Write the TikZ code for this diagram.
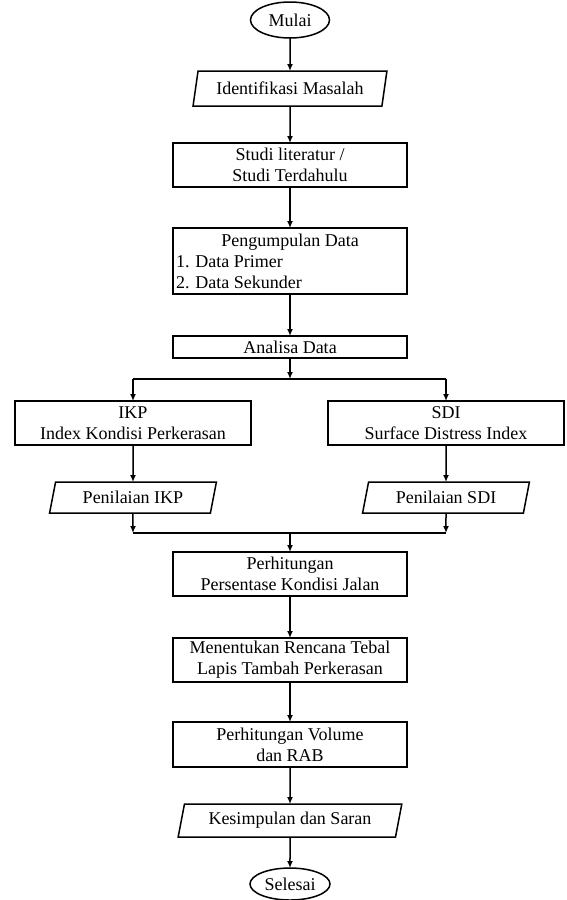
\documentclass[tikz,border=0pt]{standalone}
\usepackage{fontspec}
\setmainfont{Liberation Serif}
\usetikzlibrary{arrows.meta, positioning, shapes.geometric}
\tikzset{
  every node/.style={font=\fontsize{18}{21}\selectfont},
  procbox/.style={draw=black, line width=1.5pt, minimum width=234pt,
    align=center, outer sep=0pt, inner xsep=2pt, inner ysep=2pt},
  iobox/.style={trapezium, trapezium left angle=76, trapezium right angle=104,
    trapezium stretches=true, draw=black, line width=1.5pt, outer sep=0pt,
    inner ysep=2pt, minimum height=33pt},
  termbox/.style={ellipse, draw=black, line width=1.5pt, outer sep=0pt,
    inner sep=1pt},
  flow/.style={-{Latex[length=7pt, width=6pt]}, line width=1.5pt},
  link/.style={line width=1.5pt},
}
\begin{document}
\begin{tikzpicture}[x=1pt, y=-1pt]
  \useasboundingbox (0,0) rectangle (566,900);

  % main column
  \node[termbox, minimum width=79pt, minimum height=36pt] (mulai) at (290,20) {Mulai};
  \node[iobox, minimum width=194pt, minimum height=35pt, below=33pt of mulai] (identifikasi)
    {Identifikasi Masalah};
  \node[procbox, minimum height=44pt, below=37pt of identifikasi] (studi)
    {Studi literatur /\\ Studi Terdahulu};
  \node[procbox, minimum height=66pt, align=left, below=41pt of studi] (kumpul)
    {\makebox[228pt]{Pengumpulan Data}\\ 1. Data Primer\\ 2. Data Sekunder};
  \node[procbox, minimum height=22pt, below=42pt of kumpul] (analisa) {Analisa Data};

  % two branches
  \node[procbox, minimum width=236pt, minimum height=44pt, below=43pt of analisa, xshift=-157pt] (ikp)
    {IKP\\ Index Kondisi Perkerasan};
  \node[procbox, minimum width=236pt, minimum height=44pt, below=43pt of analisa, xshift=156pt] (sdi)
    {SDI\\ Surface Distress Index};
  \node[iobox, minimum width=167pt, minimum height=31pt, below=37pt of ikp] (nilaiikp) {Penilaian IKP};
  \node[iobox, minimum width=167pt, minimum height=31pt, below=37pt of sdi] (nilaisdi) {Penilaian SDI};

  % back to main column
  \node[procbox, minimum height=44pt, below=194pt of analisa] (hitung)
    {Perhitungan\\ Persentase Kondisi Jalan};
  \node[procbox, minimum height=44pt, below=42pt of hitung] (rencana)
    {Menentukan Rencana Tebal\\ Lapis Tambah Perkerasan};
  \node[procbox, minimum height=45pt, below=40pt of rencana] (volume)
    {Perhitungan Volume\\ dan RAB};
  \node[iobox, minimum width=224pt, below=37pt of volume] (simpulan) {Kesimpulan dan Saran};
  \node[termbox, minimum width=80pt, minimum height=32pt, below=31pt of simpulan] (selesai) {Selesai};

  \coordinate (split) at (290,379);
  \coordinate (join) at (290,533);

  % arrows
  \draw[flow] (mulai) -- (identifikasi);
  \draw[flow] (identifikasi) -- (studi);
  \draw[flow] (studi) -- (kumpul);
  \draw[flow] (kumpul) -- (analisa);
  \draw[flow] (analisa) -- (split);
  \draw[link] (split -| ikp) -- (split -| sdi);
  \draw[flow] (split -| ikp) -- (ikp);
  \draw[flow] (split -| sdi) -- (sdi);
  \draw[flow] (ikp) -- (nilaiikp);
  \draw[flow] (sdi) -- (nilaisdi);
  \draw[flow] (nilaiikp) -- (join -| nilaiikp);
  \draw[flow] (nilaisdi) -- (join -| nilaisdi);
  \draw[link] (join -| nilaiikp) -- (join -| nilaisdi);
  \draw[flow] (join) -- (hitung);
  \draw[flow] (hitung) -- (rencana);
  \draw[flow] (rencana) -- (volume);
  \draw[flow] (volume) -- (simpulan);
  \draw[flow] (simpulan) -- (selesai);
\end{tikzpicture}
\end{document}
